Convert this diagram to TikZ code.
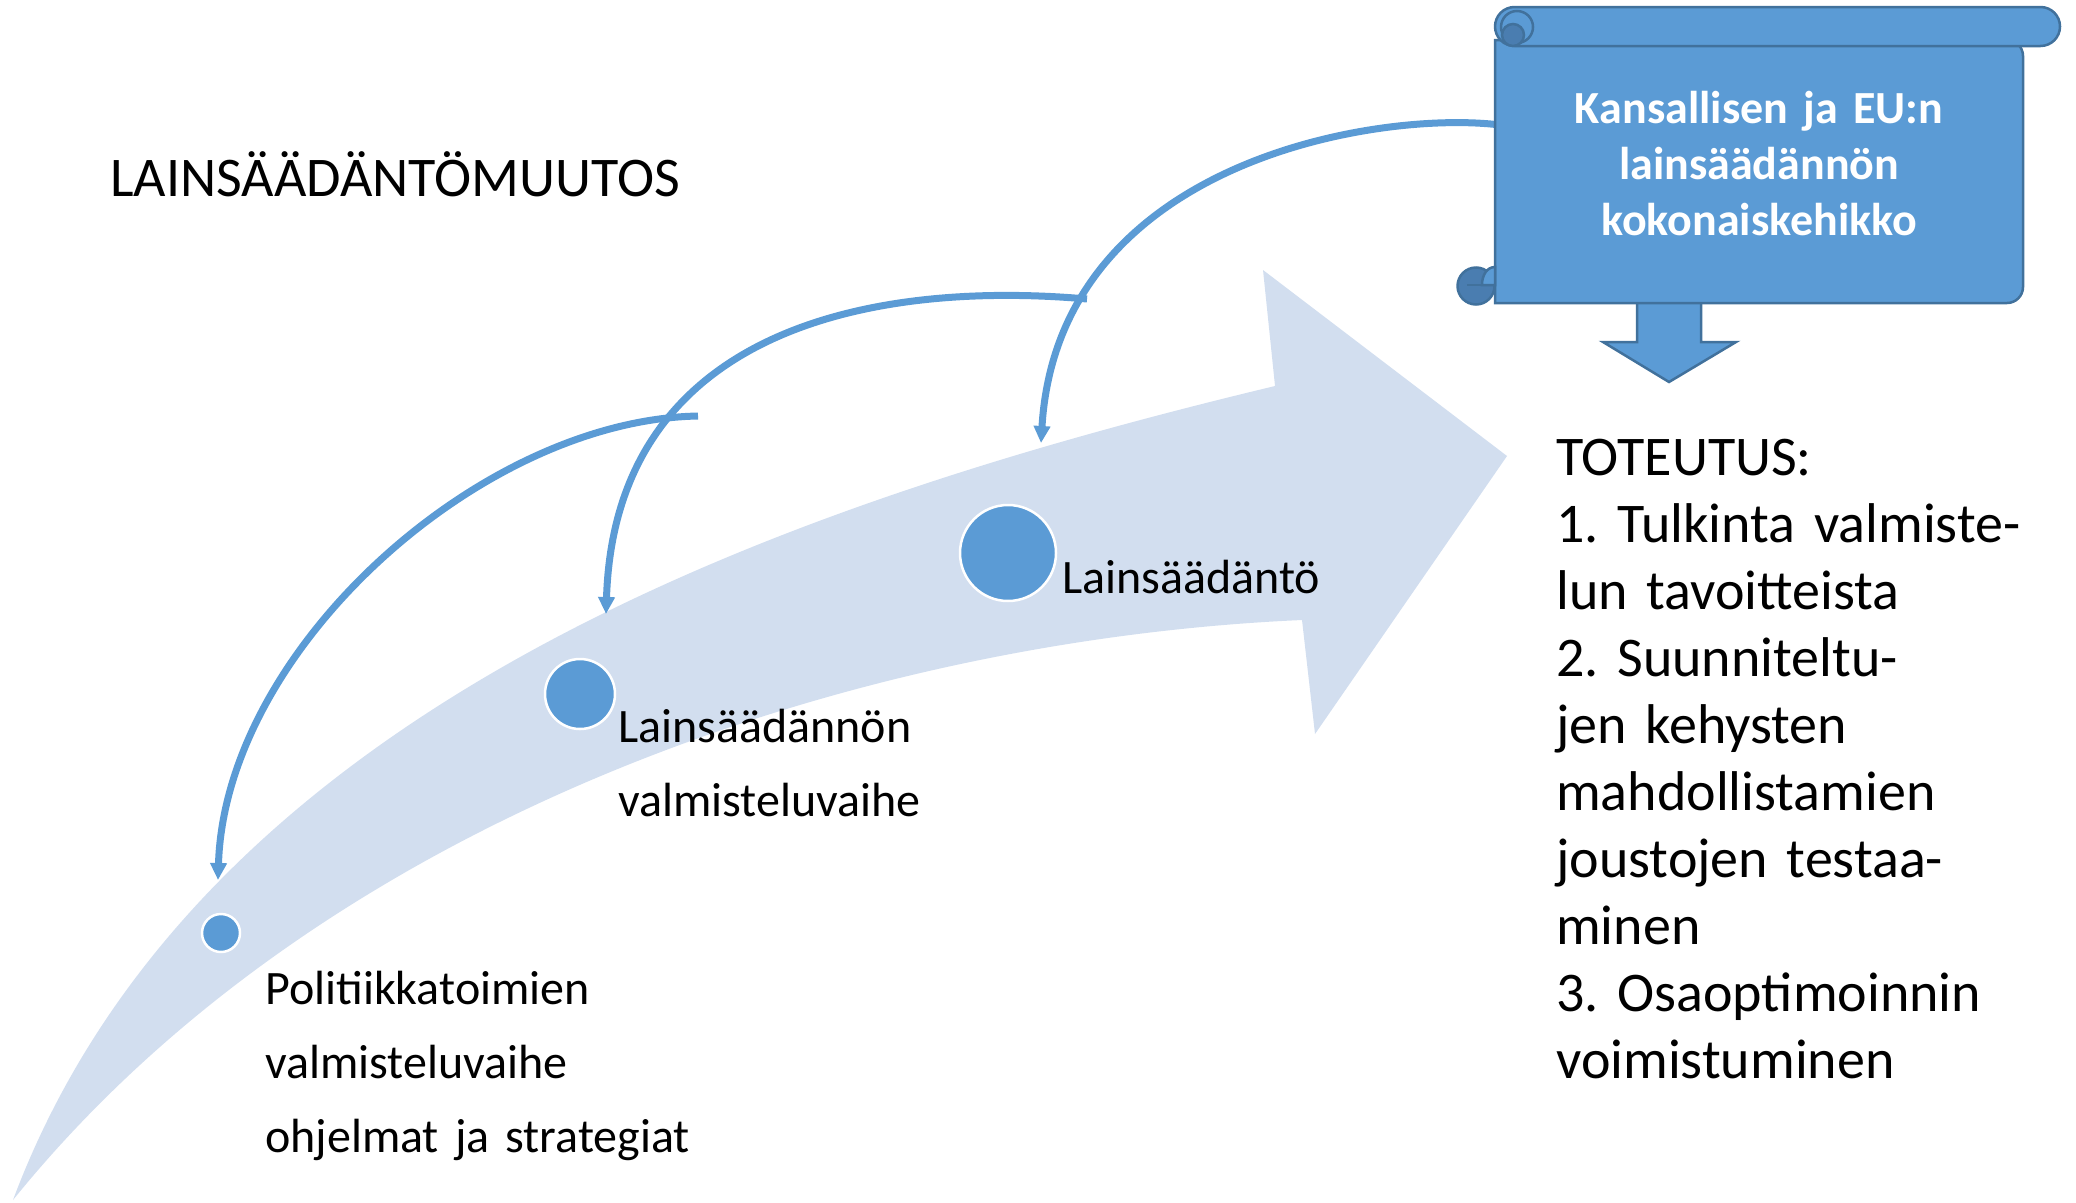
\documentclass[tikz,border=0pt]{standalone}
\usepackage{fontspec}
\setmainfont{Carlito}
\usetikzlibrary{arrows.meta}
\definecolor{bandblue}{HTML}{D2DEEF}
\definecolor{dotblue}{HTML}{5B9BD5}
\definecolor{rimblue}{HTML}{41719C}
\definecolor{curlblue}{HTML}{4A7DB0}
\tikzset{
	dot/.style={circle,fill=dotblue,draw=white,line width=2.5pt,inner sep=0pt},
	lbl/.style={font=\fontsize{48}{74}\selectfont,text width=450pt,align=left,inner sep=0pt,anchor=base west},
	link/.style={draw=dotblue,line width=7pt,-{Triangle[length=17pt,width=16pt]}},
	scroll/.style={fill=dotblue,draw=rimblue,line width=2.5pt},
	curl/.style={fill=curlblue,draw=rimblue,line width=2.5pt}
}
\begin{document}
\frenchspacing
\begin{tikzpicture}[x=1pt,y=-1pt]
\useasboundingbox (0,0) rectangle (2076,1202);
\fill[bandblue] (13,1200) .. controls (200,700) and (800,500) .. (1275,386)
	-- (1263,270) -- (1507,456) -- (1315,734) -- (1302,620)
	.. controls (850,640) and (320,820) .. cycle;
\node[dot,minimum size=38pt] (p1) at (221,933) {};
\node[dot,minimum size=70pt] (p2) at (580,694) {};
\node[dot,minimum size=96pt] (p3) at (1008,553) {};
\node[lbl] (l1) at (265,1004) {Politiikkatoimien\\valmisteluvaihe\\ohjelmat ja strategiat};
\node[lbl] (l2) at (618,742) {Lainsäädännön\\valmisteluvaihe};
\node[lbl] (l3) at (1062,593) {Lainsäädäntö};
\coordinate (s1) at (1500,125);
\coordinate (e1) at (1041,443);
\coordinate (s2) at (1087,299);
\coordinate (e2) at (606,614);
\coordinate (s3) at (698,416);
\coordinate (e3) at (218,880);
\draw[link] (s1) .. controls (1380,110) and (1058,160) .. (e1);
\draw[link] (s2) .. controls (870,280) and (615,330) .. (e2);
\draw[link] (s3) .. controls (480,420) and (225,650) .. (e3);
\filldraw[scroll] (1637,298) -- (1701,298) -- (1701,342) -- (1736,342)
	-- (1669,382) -- (1603,342) -- (1637,342) -- cycle;
\filldraw[scroll] (1495,40) -- (1495,303) {[rounded corners=16pt] -- (2023,303) -- (2023,40)} -- cycle;
\filldraw[curl] (1476,286) circle[radius=18.5];
\filldraw[scroll] (1482,285) -- (1495,285) -- (1495,267) .. controls (1487,267) and (1482,275) .. cycle;
\draw[rimblue,line width=2.5pt] (1467,285) -- (1482,285);
\filldraw[scroll,rounded corners=19.5pt] (1495,7) rectangle (2060,46);
\draw[rimblue,line width=2.5pt] (1517,27) circle[radius=16];
\filldraw[curl] (1513,35) circle[radius=11];
\node[font=\bfseries\fontsize{46}{56}\selectfont,text=white,text width=520pt,align=center,inner sep=0pt,anchor=base] (kehys) at (1759,123)
	{Kansallisen ja EU:n\\lainsäädännön\\kokonaiskehikko};
\node[font=\fontsize{56}{66}\selectfont,inner sep=0pt,anchor=base west] (otsikko) at (110,196) {LAINSÄÄDÄNTÖMUUTOS};
\node[font=\fontsize{56}{67}\selectfont,text width=520pt,align=left,inner sep=0pt,anchor=base west] (toteutus) at (1556,475)
	{TOTEUTUS:\\1. Tulkinta valmiste-\\lun tavoitteista\\2. Suunniteltu-\\jen kehysten\\mahdollistamien\\joustojen testaa-\\minen\\3. Osaoptimoinnin\\voimistuminen};
\end{tikzpicture}
\end{document}
